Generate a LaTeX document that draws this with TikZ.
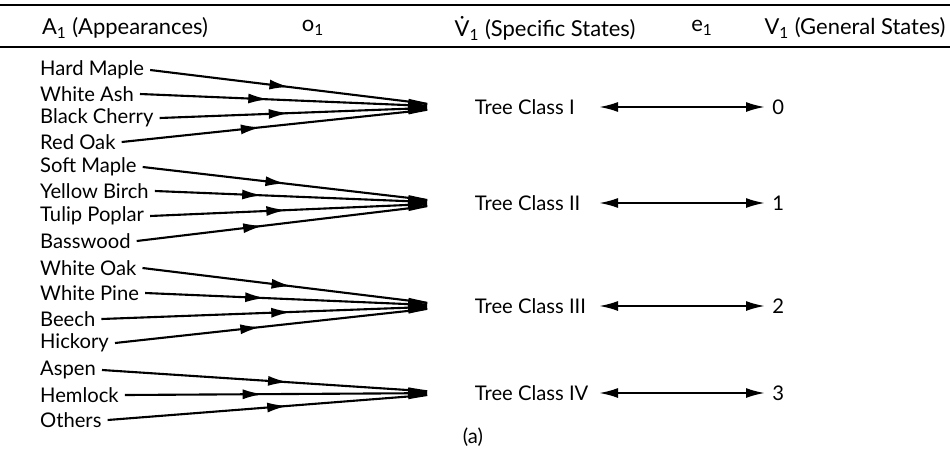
\documentclass[tikz,border=0pt]{standalone}
\usepackage{fontspec}
\setmainfont{Lato}
\usepackage{tikz}
\usetikzlibrary{arrows.meta,decorations.markings}

\tikzset{
  species/.style={anchor=west, inner sep=2pt, outer sep=1.5pt},
  treeclass/.style={anchor=west, inner sep=2pt},
  general/.style={anchor=west, inner sep=4pt},
  colhead/.style={font=\fontsize{12.5}{15}\selectfont},
  feed/.style={line width=1.2pt, -{Latex[length=9mm,width=1.1mm]},
    postaction={decorate},
    decoration={markings, mark=at position #1 with {\arrow{Latex[length=4mm,width=2mm]}}}},
  link/.style={line width=1.2pt, {Latex[length=3.8mm,width=2mm]}-{Latex[length=3.8mm,width=2mm]}}
}

\begin{document}
\begin{tikzpicture}[x=0.02cm,y=-0.02cm,every node/.style={font=\fontsize{11.5}{14}\selectfont}]
    \useasboundingbox (0,0) rectangle (950,460);
    % Rules of the table head
    \draw[line width=1.5pt] (0,5) -- (950,5);
    \draw[line width=1.5pt] (0,47) -- (950,47);

    % Column heads
    \node[colhead] (hA) at (125,28) {A\textsubscript{1} (Appearances)};
    \node[colhead] (ho) at (313,28) {o\textsubscript{1}};
    \node[colhead] (hS) at (545,28) {\.{V}\textsubscript{1} (Specific States)};
    \node[colhead] (he) at (702,28) {e\textsubscript{1}};
    \node[colhead] (hG) at (855,28) {V\textsubscript{1} (General States)};

    % Appearances
    \node[species] (hm) at (34,70)  {Hard Maple};
    \node[species] (wa) at (34,94)  {White Ash};
    \node[species] (bc) at (34,118) {Black Cherry};
    \node[species] (ro) at (34,142) {Red Oak};
    \node[species] (sm) at (34,167) {Soft Maple};
    \node[species] (yb) at (34,191) {Yellow Birch};
    \node[species] (tp) at (34,216) {Tulip Poplar};
    \node[species] (bw) at (34,241) {Basswood};
    \node[species] (wo) at (34,268) {White Oak};
    \node[species] (wp) at (34,293) {White Pine};
    \node[species] (be) at (34,319) {Beech};
    \node[species] (hi) at (34,343) {Hickory};
    \node[species] (as) at (34,370) {Aspen};
    \node[species] (he2) at (34,395) {Hemlock};
    \node[species] (ot) at (34,420) {Others};

    % Points where the appearances meet
    \coordinate (c1) at (453,107);
    \coordinate (c2) at (453,203);
    \coordinate (c3) at (453,306);
    \coordinate (c4) at (453,393);

    % Specific states
    \node[treeclass] (t1) at (471,107) {Tree Class I};
    \node[treeclass] (t2) at (471,203) {Tree Class II};
    \node[treeclass] (t3) at (471,306) {Tree Class III};
    \node[treeclass] (t4) at (471,393) {Tree Class IV};

    % General states
    \node[general] (g1) at (765,107) {0};
    \node[general] (g2) at (765,203) {1};
    \node[general] (g3) at (765,306) {2};
    \node[general] (g4) at (765,393) {3};

    % o1 mapping
    \draw[feed=.46] (hm.east) -- (c1);
    \draw[feed=.41] (wa.east) -- (c1);
    \draw[feed=.44] (bc.east) -- (c1);
    \draw[feed=.42] (ro.east) -- (c1);

    \draw[feed=.46] (sm.east) -- (c2);
    \draw[feed=.36] (yb.east) -- (c2);
    \draw[feed=.45] (tp.east) -- (c2);
    \draw[feed=.40] (bw.east) -- (c2);

    \draw[feed=.48] (wo.east) -- (c3);
    \draw[feed=.39] (wp.east) -- (c3);
    \draw[feed=.54] (be.east) -- (c3);
    \draw[feed=.43] (hi.east) -- (c3);

    \draw[feed=.53] (as.east) -- (c4);
    \draw[feed=.42] (he2.east) -- (c4);
    \draw[feed=.52] (ot.east) -- (c4);

    % e1 mapping
    \coordinate (l1) at (599,107);
    \coordinate (l2) at (599,203);
    \coordinate (l3) at (599,306);
    \coordinate (l4) at (599,393);
    \draw[link] (l1) -- (g1.west);
    \draw[link] (l2) -- (g2.west);
    \draw[link] (l3) -- (g3.west);
    \draw[link] (l4) -- (g4.west);

    \node (cap) at (473,437) {(a)};
\end{tikzpicture}
\end{document}
